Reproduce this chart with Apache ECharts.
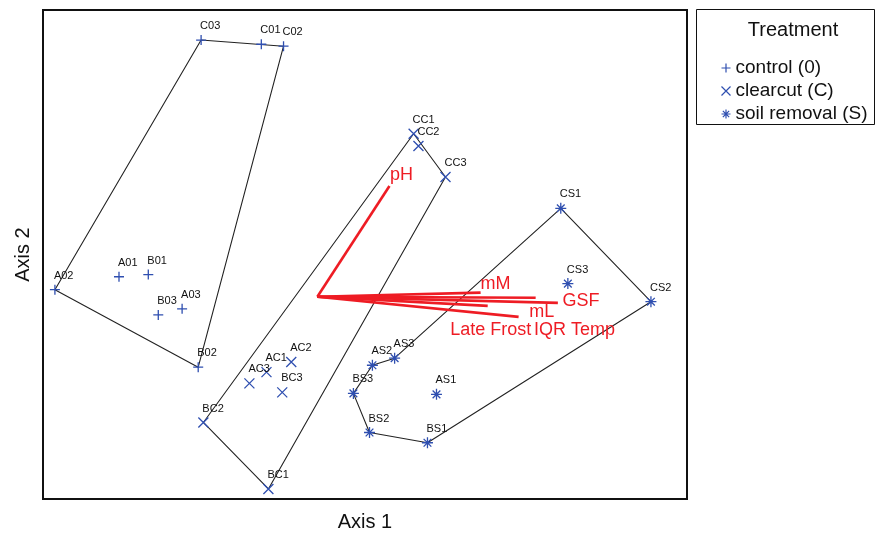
<!DOCTYPE html>
<html>
<head>
<meta charset="utf-8">
<script src="https://cdn.jsdelivr.net/npm/echarts@6/dist/echarts.min.js"></script>
<style>html,body{margin:0;padding:0;background:#fff}#c{width:880px;height:534px}</style>
</head>
<body>
<div id="c"></div>
<script>
// ---- data (ordination scores, Axis 1 / Axis 2) ----
const controlNames = ['C03','C01','C02','A02','A01','B01','B03','A03','B02'];
const controlX = [-0.509,-0.322,-0.253,-0.963,-0.764,-0.673,-0.642,-0.568,-0.518];
const controlY = [0.877,0.860,0.852,-0.144,-0.091,-0.082,-0.247,-0.222,-0.461];

const clearcutNames = ['AC2','AC1','AC3','BC3','BC2','BC1','CC1','CC2','CC3'];
const clearcutX = [-0.229,-0.306,-0.359,-0.257,-0.502,-0.300,0.151,0.166,0.250];
const clearcutY = [-0.440,-0.481,-0.527,-0.564,-0.687,-0.959,0.494,0.444,0.317];

const soilNames = ['CS1','CS3','CS2','AS2','AS3','BS3','AS1','BS2','BS1'];
const soilX = [0.608,0.630,0.888,0.023,0.092,-0.036,0.222,0.014,0.194];
const soilY = [0.189,-0.119,-0.193,-0.453,-0.424,-0.568,-0.572,-0.728,-0.770];

// convex hulls (vertex order)
const controlHull = ['C03','C02','B02','A02'];
const clearcutHull = ['CC1','CC3','BC1','BC2'];
const soilHull = ['CS1','CS2','BS1','BS2','BS3','AS2','AS3'];

// environmental vectors
const vecOrigin = [-0.148,-0.173];
const vecNames = ['pH','mM','mL','GSF','Late Frost','IQR Temp'];
const vecX = [0.076,0.359,0.530,0.599,0.381,0.477];
const vecY = [0.280,-0.156,-0.177,-0.198,-0.210,-0.255];

const groupNames = ['control (0)','clearcut (C)','soil removal (S)'];

// ---- styling ----
const BLUE = '#2f4fb0';
const RED = '#ee1c24';
const FONT = 'Liberation Sans, Arial, sans-serif';
const SYM_PLUS = 'path://M5,0L5,10M0,5L10,5';
const SYM_X = 'path://M0,0L10,10M10,0L0,10';
const SYM_STAR = 'path://M5,0L5,10M0,5L10,5M1.5,1.5L8.5,8.5M8.5,1.5L1.5,8.5';
const labelOffsets = {pH:[12,-11], mM:[15,-9], mL:[6,14], GSF:[23,-2], 'Late Frost':[3,24], 'IQR Temp':[56,13]};

function pts(names, xs, ys){ return names.map((n,i)=>({name:n, value:[xs[i], ys[i]]})); }
function hull(order, names, xs, ys){
  const d = order.map(n=>{const i=names.indexOf(n); return [xs[i], ys[i]];});
  d.push(d[0]); return d;
}
const ptLabel = {show:true, position:'inside', align:'left', verticalAlign:'middle', offset:[-1,-14],
  formatter:p=>p.name, color:'#111', fontSize:11, fontFamily:FONT};

function scatter(name, sym, size, data){
  return {type:'scatter', name, symbol:sym, symbolSize:size, data, z:5,
    itemStyle:{color:'none', borderColor:BLUE, borderWidth:1.3, opacity:1},
    label:ptLabel, emphasis:{disabled:true}};
}
function hullSeries(d){
  return {type:'line', data:d, symbol:'none', silent:true, z:2,
    lineStyle:{color:'#222', width:1.1}};
}

const series = [
  hullSeries(hull(controlHull, controlNames, controlX, controlY)),
  hullSeries(hull(clearcutHull, clearcutNames, clearcutX, clearcutY)),
  hullSeries(hull(soilHull, soilNames, soilX, soilY)),
];
vecNames.forEach((n,i)=>{
  series.push({type:'line', data:[vecOrigin,[vecX[i],vecY[i]]], symbol:'none', silent:true, z:3,
    lineStyle:{color:RED, width:2.6}});
});
series.push({type:'scatter', symbolSize:0, silent:true, z:4, itemStyle:{opacity:1},
  data: vecNames.map((n,i)=>({name:n, value:[vecX[i],vecY[i]],
    label:{offset:labelOffsets[n]}})),
  label:{show:true, position:'inside', align:'center', verticalAlign:'middle',
    formatter:p=>p.name, color:RED, fontSize:18, fontFamily:FONT, opacity:1}});
series.push(scatter(groupNames[0], SYM_PLUS, 10, pts(controlNames, controlX, controlY)));
series.push(scatter(groupNames[1], SYM_X, 10, pts(clearcutNames, clearcutX, clearcutY)));
series.push(scatter(groupNames[2], SYM_STAR, 11, pts(soilNames, soilX, soilY)));

const chart = echarts.init(document.getElementById('c'), null, {renderer:'canvas'});
chart.setOption({
  animation:false,
  backgroundColor:'#fff',
  grid:{left:43, top:10, width:644, height:489, show:true, borderColor:'#111', borderWidth:2,
    backgroundColor:'transparent', containLabel:false, outerBoundsMode:'none'},
  xAxis:{type:'value', min:-1, max:1, name:'Axis 1', nameLocation:'middle', nameGap:13,
    nameTextStyle:{fontSize:20, color:'#111', fontFamily:FONT},
    axisLine:{show:false}, axisTick:{show:false}, axisLabel:{show:false}, splitLine:{show:false}},
  yAxis:{type:'value', min:-1, max:1, name:'Axis 2', nameLocation:'middle', nameGap:10,
    nameTextStyle:{fontSize:20, color:'#111', fontFamily:FONT},
    axisLine:{show:false}, axisTick:{show:false}, axisLabel:{show:false}, splitLine:{show:false}},
  legend:{orient:'vertical', left:714, top:52, itemWidth:9, itemHeight:9, itemGap:1,
    textStyle:{fontSize:19, color:'#111', fontFamily:FONT, lineHeight:22},
    data:[
      {name:groupNames[0], icon:SYM_PLUS, itemStyle:{color:'none', borderColor:BLUE, borderWidth:1.2}},
      {name:groupNames[1], icon:SYM_X, itemStyle:{color:'none', borderColor:BLUE, borderWidth:1.2}},
      {name:groupNames[2], icon:SYM_STAR, itemStyle:{color:'none', borderColor:BLUE, borderWidth:1.2}}
    ], selectedMode:false},
  graphic:[
    {type:'rect', shape:{x:696.5, y:9.5, width:178, height:115}, style:{fill:'none', stroke:'#111', lineWidth:1}},
    {type:'text', x:793, y:30, style:{text:'Treatment', fontSize:20, fontFamily:FONT, fill:'#111', align:'center', verticalAlign:'middle'}}
  ],
  series
});
</script>
</body>
</html>
